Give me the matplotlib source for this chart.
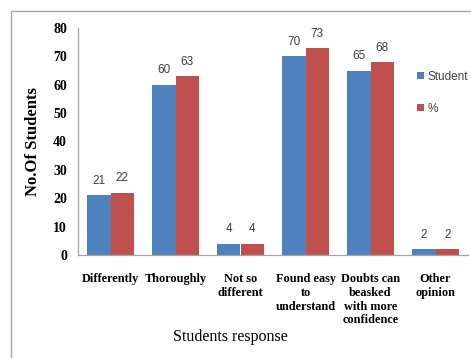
import matplotlib
matplotlib.use("Agg")
import matplotlib.pyplot as plt
import numpy as np
from matplotlib.patches import Rectangle

categories = ["Differently", "Thoroughly", "Not so\ndifferent", "Found easy\nto\nunderstand",
              "Doubts can\nbeasked\nwith more\nconfidence", "Other\nopinion"]
students = [21, 60, 4, 70, 65, 2]
percent = [22, 63, 4, 73, 68, 2]
series_names = ["Student", "%"]
yticks = [0, 10, 20, 30, 40, 50, 60, 70, 80]

blue = "#4F81BD"
red = "#C0504D"

W, H = 471, 358
fig = plt.figure(figsize=(W / 100, H / 100), dpi=100)
ax = fig.add_axes([78 / W, 1 - 255 / H, 390 / W, 227 / H])

x = np.arange(len(categories))
bw = 0.365
b1 = ax.bar(x - bw / 2, students, bw, color=blue, label=series_names[0])
b2 = ax.bar(x + bw / 2, percent, bw, color=red, label=series_names[1])

for bars, vals in ((b1, students), (b2, percent)):
    for r, v in zip(bars, vals):
        ax.annotate(str(v), (r.get_x() + r.get_width() / 2, v), xytext=(0, 6),
                    textcoords="offset points", ha="center", va="bottom",
                    fontsize=8.5, color="#404040", family="Liberation Sans")

ax.set_xlim(-0.5, len(categories) - 0.5)
ax.set_ylim(0, 80)
ax.set_yticks(yticks)
ax.set_xticks(x)
ax.set_xticklabels(categories, family="Liberation Serif", fontweight="bold",
                   fontsize=8.8, va="top", linespacing=1.2)
for lbl in ax.get_yticklabels():
    lbl.set_family("Liberation Serif")
    lbl.set_fontweight("bold")
    lbl.set_fontsize(10)
ax.tick_params(axis="both", length=0)
ax.tick_params(axis="x", pad=13)
ax.tick_params(axis="y", pad=8)

for s in ("top", "right"):
    ax.spines[s].set_visible(False)
for s in ("left", "bottom"):
    ax.spines[s].set_color("#A6A6A6")
    ax.spines[s].set_linewidth(0.9)

ax.set_ylabel("No.Of Students", family="Liberation Serif", fontweight="bold", fontsize=12)
ax.yaxis.set_label_coords(-0.095, 0.5)
fig.text(230 / W, 1 - 337 / H, "Students response", family="Liberation Serif",
         fontsize=11.5, ha="center", va="center")

leg = fig.legend(handles=[b1, b2], labels=series_names, loc="upper left",
                 bbox_to_anchor=(412 / W, 1 - 66 / H), frameon=False,
                 handlelength=0.6, handleheight=0.6, handletextpad=0.3,
                 labelspacing=1.7, borderaxespad=0.0,
                 prop={"family": "Liberation Sans", "size": 8.5})
for t in leg.get_texts():
    t.set_color("#404040")

# chart frame
fig.add_artist(Rectangle((11 / W, -0.05), 1.0, 1 - 11 / H + 0.05, transform=fig.transFigure,
                         fill=False, edgecolor="#A6A6A6", linewidth=1.0))

fig.savefig("out.png", dpi=100)
